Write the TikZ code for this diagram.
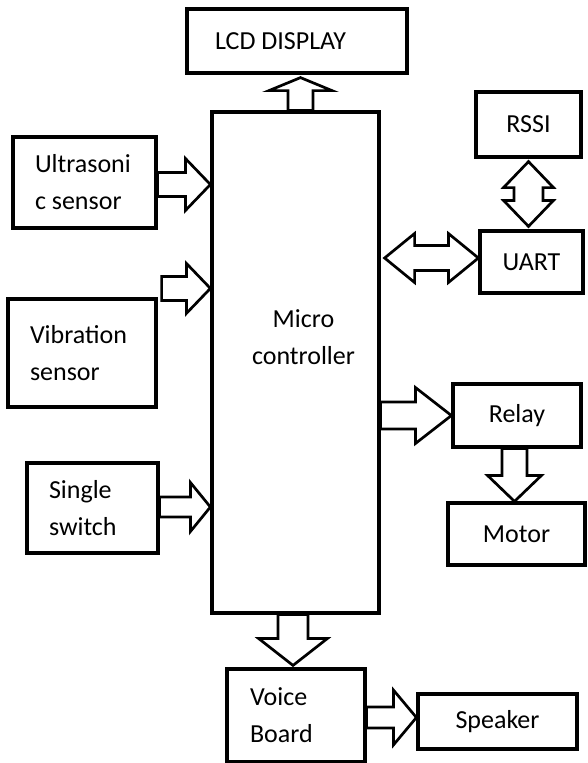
\documentclass[tikz,border=0pt]{standalone}
\usepackage{fontspec}
\setmainfont{Carlito}
\usetikzlibrary{calc}

% hollow block arrow: tail, tip, half shaft, half head, head length
\newcommand{\blockarrow}[5]{%
  \coordinate (ba-t) at (#1);
  \coordinate (ba-p) at (#2);
  \coordinate (ba-h) at ($(ba-p)!#5pt!(ba-t)$);
  \draw[blockline] ($(ba-t)!#3pt!90:(ba-p)$) -- ($(ba-h)!#3pt!90:(ba-p)$) -- ($(ba-h)!#4pt!90:(ba-p)$) -- (ba-p)
    -- ($(ba-h)!#4pt!-90:(ba-p)$) -- ($(ba-h)!#3pt!-90:(ba-p)$) -- ($(ba-t)!#3pt!-90:(ba-p)$) -- cycle;
}
% hollow double block arrow: end, end, half shaft, half head, head length
\newcommand{\dblarrow}[5]{%
  \coordinate (da-a) at (#1);
  \coordinate (da-b) at (#2);
  \coordinate (da-ha) at ($(da-a)!#5pt!(da-b)$);
  \coordinate (da-hb) at ($(da-b)!#5pt!(da-a)$);
  \draw[blockline] (da-a) -- ($(da-ha)!#4pt!90:(da-b)$) -- ($(da-ha)!#3pt!90:(da-b)$) -- ($(da-hb)!#3pt!90:(da-b)$)
    -- ($(da-hb)!#4pt!90:(da-b)$) -- (da-b) -- ($(da-hb)!#4pt!-90:(da-b)$) -- ($(da-hb)!#3pt!-90:(da-b)$)
    -- ($(da-ha)!#3pt!-90:(da-b)$) -- ($(da-ha)!#4pt!-90:(da-b)$) -- cycle;
}

\begin{document}
\begin{tikzpicture}[x=1pt, y=-1pt,
    font=\fontsize{26}{37}\selectfont,
    box/.style={draw, line width=3.2pt, inner sep=0pt, align=center},
    leftbox/.style={box, align=flush left},
    blockline/.style={line width=2.7pt, line join=miter}
]
\useasboundingbox (0,0) rectangle (587,763);

% --- Centre: micro controller and display ---
\node[box, minimum width=167pt, minimum height=501pt,
      label={[align=center, xshift=8pt, yshift=25.5pt]center:Micro\\controller}] (mcu) at (295.5,362.5) {};
\node[leftbox, minimum width=220pt, minimum height=64pt, text width=164pt] (lcd) at (297,41) {LCD DISPLAY};

% --- Left: sensors and switch ---
\node[leftbox, minimum width=143pt, minimum height=91pt, text width=99pt] (us) at (84.5,182.5) {Ultrasoni\\c sensor};
\node[leftbox, minimum width=148pt, minimum height=108pt, text width=104pt] (vib) at (82,353) {Vibration\\sensor};
\node[leftbox, minimum width=131pt, minimum height=90pt, text width=87pt] (sw) at (92.5,508) {Single\\switch};

% --- Right: RSSI, UART, relay and motor ---
\node[box, minimum width=105pt, minimum height=65pt] (rssi) at (528.5,124.5) {RSSI};
\node[box, minimum width=103pt, minimum height=62pt] (uart) at (531.5,262) {UART};
\node[box, minimum width=128pt, minimum height=63pt] (relay) at (517,415.5) {Relay};
\node[box, minimum width=137pt, minimum height=62pt] (motor) at (516.5,534) {Motor};

% --- Bottom: voice board and speaker ---
\node[leftbox, minimum width=138pt, minimum height=93pt, text width=92pt] (voice) at (296,715.5) {Voice\\Board};
\node[box, minimum width=159pt, minimum height=55pt] (spk) at (497.5,721.5) {Speaker};

% --- Block arrows ---
\blockarrow{$(mcu.north)+(5,0)$}{$(lcd.south -| mcu.north)+(5,3)$}{12.5}{31.5}{13}
\blockarrow{$(us.east)+(0,2)$}{$(mcu.west |- us.east)+(0,2)$}{12}{26}{25}
\coordinate (vibtail) at ($(vib.north east)+(4,-9)$);
\blockarrow{vibtail}{mcu.west |- vibtail}{12}{25}{24}
\blockarrow{$(sw.east)+(0,-1)$}{$(mcu.west |- sw.east)+(0,-1)$}{10}{24.5}{20}
\dblarrow{$(mcu.east |- uart.west)+(4,-4)$}{$(uart.west)+(0,-4)$}{12.5}{24.5}{30}
\dblarrow{$(rssi.south)+(0,3)$}{$(uart.north -| rssi.south)+(0,-3)$}{14.5}{25}{26}
\blockarrow{mcu.east |- relay.west}{relay.west}{13.5}{28}{36}
\blockarrow{$(relay.south)+(-2.5,0)$}{$(motor.north -| relay.south)+(-2.5,0)$}{12.5}{27}{26}
\blockarrow{$(mcu.south)+(-2.5,0)$}{$(voice.north -| mcu.south)+(-2.5,-2)$}{15}{34.5}{27}
\blockarrow{$(voice.east)+(0,2)$}{$(spk.west |- voice.east)+(0,2)$}{10.5}{27.5}{23}

\end{tikzpicture}
\end{document}
